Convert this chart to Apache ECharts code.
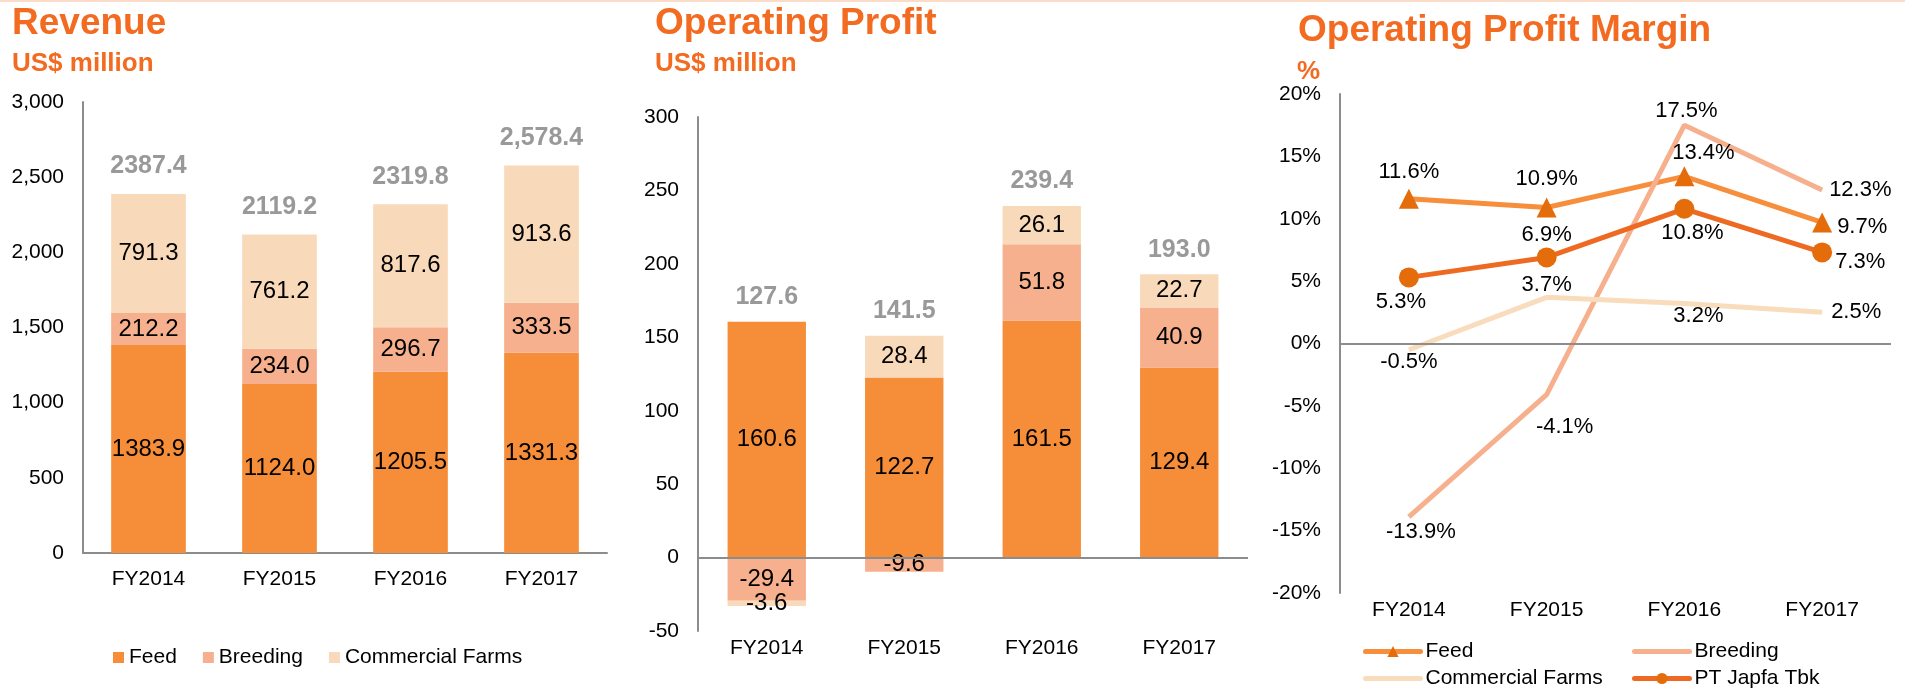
<!DOCTYPE html>
<html>
<head>
<meta charset="utf-8">
<title>Revenue, Operating Profit, Operating Profit Margin</title>
<script src="https://cdn.jsdelivr.net/npm/echarts@6/dist/echarts.min.js"></script>
<style>
  html, body { margin: 0; padding: 0; background: #fff; }
  #main { width: 1905px; height: 690px; }
</style>
</head>
<body>
<div id="main"></div>
<script>
const categories = ['FY2014', 'FY2015', 'FY2016', 'FY2017'];

// Revenue, US$ million
const revFeed = [1383.9, 1124.0, 1205.5, 1331.3];
const revBreeding = [212.2, 234.0, 296.7, 333.5];
const revCommercial = [791.3, 761.2, 817.6, 913.6];
const revTotalText = ['2387.4', '2119.2', '2319.8', '2,578.4'];

// Operating profit, US$ million
const opFeed = [160.6, 122.7, 161.5, 129.4];
const opBreeding = [-29.4, -9.6, 51.8, 40.9];
const opCommercial = [-3.6, 28.4, 26.1, 22.7];
const opTotalText = ['127.6', '141.5', '239.4', '193.0'];

// Operating profit margin, %
const marginFeed = [11.6, 10.9, 13.4, 9.7];
const marginBreeding = [-13.9, -4.1, 17.5, 12.3];
const marginCommercial = [-0.5, 3.7, 3.2, 2.5];
const marginJapfa = [5.3, 6.9, 10.8, 7.3];

const FONT = '"Liberation Sans", Arial, sans-serif';
const ORANGE = '#F26B21';
const AXIS = '#8C8C8C';
const C_FEED = '#F58D39';
const C_BREED = '#F7B08E';
const C_COMM = '#F8DABA';

// where each margin label sits next to its point (style only)
const feedPlace = [
  { position: 'top', distance: 6 },
  { position: 'top', distance: 8 },
  { position: 'top', distance: 2, offset: [19, 0] },
  { position: 'right', distance: 5, offset: [0, 4] }
];
const breedPlace = [
  { position: 'bottom', distance: 3, offset: [12, 0] },
  { position: 'bottom', distance: 3, offset: [18, 17] },
  { position: 'top', distance: 2, offset: [2, 0] },
  { position: 'right', distance: 6 }
];
const commPlace = [
  { position: 'bottom', distance: 0 },
  { position: 'top', distance: 0 },
  { position: 'bottom', distance: 0, offset: [14, 0] },
  { position: 'right', distance: 8 }
];
const japfaPlace = [
  { position: 'bottom', distance: 4, offset: [-8, 0] },
  { position: 'top', distance: 1 },
  { position: 'bottom', distance: 3, offset: [8, 0] },
  { position: 'right', distance: 3, offset: [0, 10] }
];

function positiveTop(...lists) {
  return lists[0].map((_, i) => lists.reduce((s, l) => s + Math.max(l[i], 0), 0));
}

function stackBar(name, data, color, axis, stack) {
  return {
    name: name, type: 'bar', stack: stack,
    xAxisIndex: axis, yAxisIndex: axis,
    data: data, barWidth: '57%',
    itemStyle: { color: color },
    label: {
      show: true, position: 'inside', color: '#000', fontSize: 24, fontFamily: FONT,
      formatter: p => p.value.toFixed(1)
    },
    emphasis: { disabled: true }
  };
}

function totalLabels(values, texts, axis, dist) {
  return {
    type: 'scatter', xAxisIndex: axis, yAxisIndex: axis,
    data: values, symbolSize: 0, silent: true, z: 5,
    itemStyle: { color: 'rgba(0,0,0,0)' },
    label: {
      show: true, position: 'top', distance: dist,
      color: '#808080', fontSize: 25, fontWeight: 'bold', fontFamily: FONT,
      formatter: p => texts[p.dataIndex]
    }
  };
}

function marginLine(name, data, lineColor, symbol, size, symbolColor, place) {
  return {
    name: name, type: 'line', xAxisIndex: 2, yAxisIndex: 2,
    data: data.map((v, i) => ({ value: v, label: place[i] })),
    symbol: symbol, symbolSize: size,
    lineStyle: { color: lineColor, width: 5 },
    itemStyle: { color: symbolColor, borderWidth: 0 },
    label: {
      show: true, color: '#000', fontSize: 22, fontFamily: FONT,
      formatter: p => p.value.toFixed(1) + '%'
    },
    emphasis: { disabled: true }
  };
}

function marginLegend(name, left, top) {
  return {
    data: [name], left: left, top: top, padding: 0,
    itemWidth: 55, itemHeight: 14, selectedMode: false,
    lineStyle: { width: 5, cap: 'round' },
    textStyle: { fontSize: 21, fontFamily: FONT, color: '#000' },
    formatter: n => n.replace(' margin', '')
  };
}

const axisText = { color: '#000', fontSize: 21, fontFamily: FONT };
const titleStyle = { color: ORANGE, fontSize: 37, fontWeight: 'bold', fontFamily: FONT };
const subStyle = { color: ORANGE, fontSize: 26, fontWeight: 'bold', fontFamily: FONT };

const zeroLine = {
  silent: true, symbol: ['none', 'none'],
  label: { show: false },
  lineStyle: { color: AXIS, width: 2, type: 'solid' },
  data: [{ yAxis: 0 }]
};

const chart = echarts.init(document.getElementById('main'));

const opFeedSeries = stackBar('Feed', opFeed, C_FEED, 1, 'op');
opFeedSeries.markLine = zeroLine;
const marginFeedSeries = marginLine('Feed margin', marginFeed, '#F68E3C', 'triangle', 20, '#E46C0A', feedPlace);
marginFeedSeries.markLine = zeroLine;

chart.setOption({
  animation: false,
  textStyle: { fontFamily: FONT },
  graphic: [{
    type: 'rect', shape: { x: 0, y: 0, width: 1905, height: 2 },
    style: { fill: '#FBDCC8' }
  }],
  title: [
    { text: 'Revenue', left: 12, top: 5, padding: 0, textStyle: titleStyle },
    { text: 'US$ million', left: 12, top: 51, padding: 0, textStyle: subStyle },
    { text: 'Operating Profit', left: 655, top: 5, padding: 0, textStyle: titleStyle },
    { text: 'US$ million', left: 655, top: 51, padding: 0, textStyle: subStyle },
    { text: 'Operating Profit Margin', left: 1298, top: 12, padding: 0, textStyle: titleStyle },
    { text: '%', left: 1297, top: 59, padding: 0, textStyle: subStyle }
  ],
  legend: [
    {
      data: ['Feed', 'Breeding', 'Commercial Farms'],
      left: 113, top: 647, padding: 0, icon: 'rect',
      itemWidth: 11, itemHeight: 11, itemGap: 26, selectedMode: false,
      textStyle: { fontSize: 21, fontFamily: FONT, color: '#000' }
    },
    marginLegend('Feed margin', 1363, 641),
    marginLegend('Breeding margin', 1632, 641),
    marginLegend('Commercial Farms margin', 1363, 668),
    marginLegend('PT Japfa Tbk', 1632, 668)
  ],
  grid: [
    { left: 83, top: 102, width: 524, height: 451 },
    { left: 698, top: 117, width: 550, height: 514 },
    { left: 1340, top: 94, width: 551, height: 499 }
  ],
  xAxis: [
    {
      type: 'category', gridIndex: 0, data: categories,
      axisLine: { lineStyle: { color: AXIS, width: 2 } },
      axisTick: { show: false },
      axisLabel: Object.assign({ margin: 16 }, axisText)
    },
    {
      type: 'category', gridIndex: 1, data: categories,
      axisLine: { show: false, onZero: false },
      axisTick: { show: false },
      axisLabel: Object.assign({ margin: 7 }, axisText)
    },
    {
      type: 'category', gridIndex: 2, data: categories,
      axisLine: { show: false, onZero: false },
      axisTick: { show: false },
      axisLabel: Object.assign({ margin: 7 }, axisText)
    }
  ],
  yAxis: [
    {
      type: 'value', gridIndex: 0, min: 0, max: 3000, interval: 500,
      axisLine: { show: true, lineStyle: { color: AXIS, width: 2 } },
      axisTick: { show: false }, splitLine: { show: false },
      axisLabel: Object.assign({ margin: 19, formatter: v => v.toLocaleString('en-US') }, axisText)
    },
    {
      type: 'value', gridIndex: 1, min: -50, max: 300, interval: 50,
      axisLine: { show: true, lineStyle: { color: AXIS, width: 2 } },
      axisTick: { show: false }, splitLine: { show: false },
      axisLabel: Object.assign({ margin: 19 }, axisText)
    },
    {
      type: 'value', gridIndex: 2, min: -20, max: 20, interval: 5,
      axisLine: { show: true, lineStyle: { color: AXIS, width: 2 } },
      axisTick: { show: false }, splitLine: { show: false },
      axisLabel: Object.assign({ margin: 19, formatter: '{value}%' }, axisText)
    }
  ],
  series: [
    stackBar('Feed', revFeed, C_FEED, 0, 'rev'),
    stackBar('Breeding', revBreeding, C_BREED, 0, 'rev'),
    stackBar('Commercial Farms', revCommercial, C_COMM, 0, 'rev'),
    totalLabels(positiveTop(revFeed, revBreeding, revCommercial), revTotalText, 0, 15),

    opFeedSeries,
    stackBar('Breeding', opBreeding, C_BREED, 1, 'op'),
    stackBar('Commercial Farms', opCommercial, C_COMM, 1, 'op'),
    totalLabels(positiveTop(opFeed, opBreeding, opCommercial), opTotalText, 1, 12),

    marginFeedSeries,
    marginLine('Breeding margin', marginBreeding, '#F7B08E', 'circle', 2, 'rgba(0,0,0,0)', breedPlace),
    marginLine('Commercial Farms margin', marginCommercial, '#F9DCBC', 'circle', 2, 'rgba(0,0,0,0)', commPlace),
    marginLine('PT Japfa Tbk', marginJapfa, '#EE6A22', 'circle', 20, '#E46C0A', japfaPlace)
  ]
});
</script>
</body>
</html>
